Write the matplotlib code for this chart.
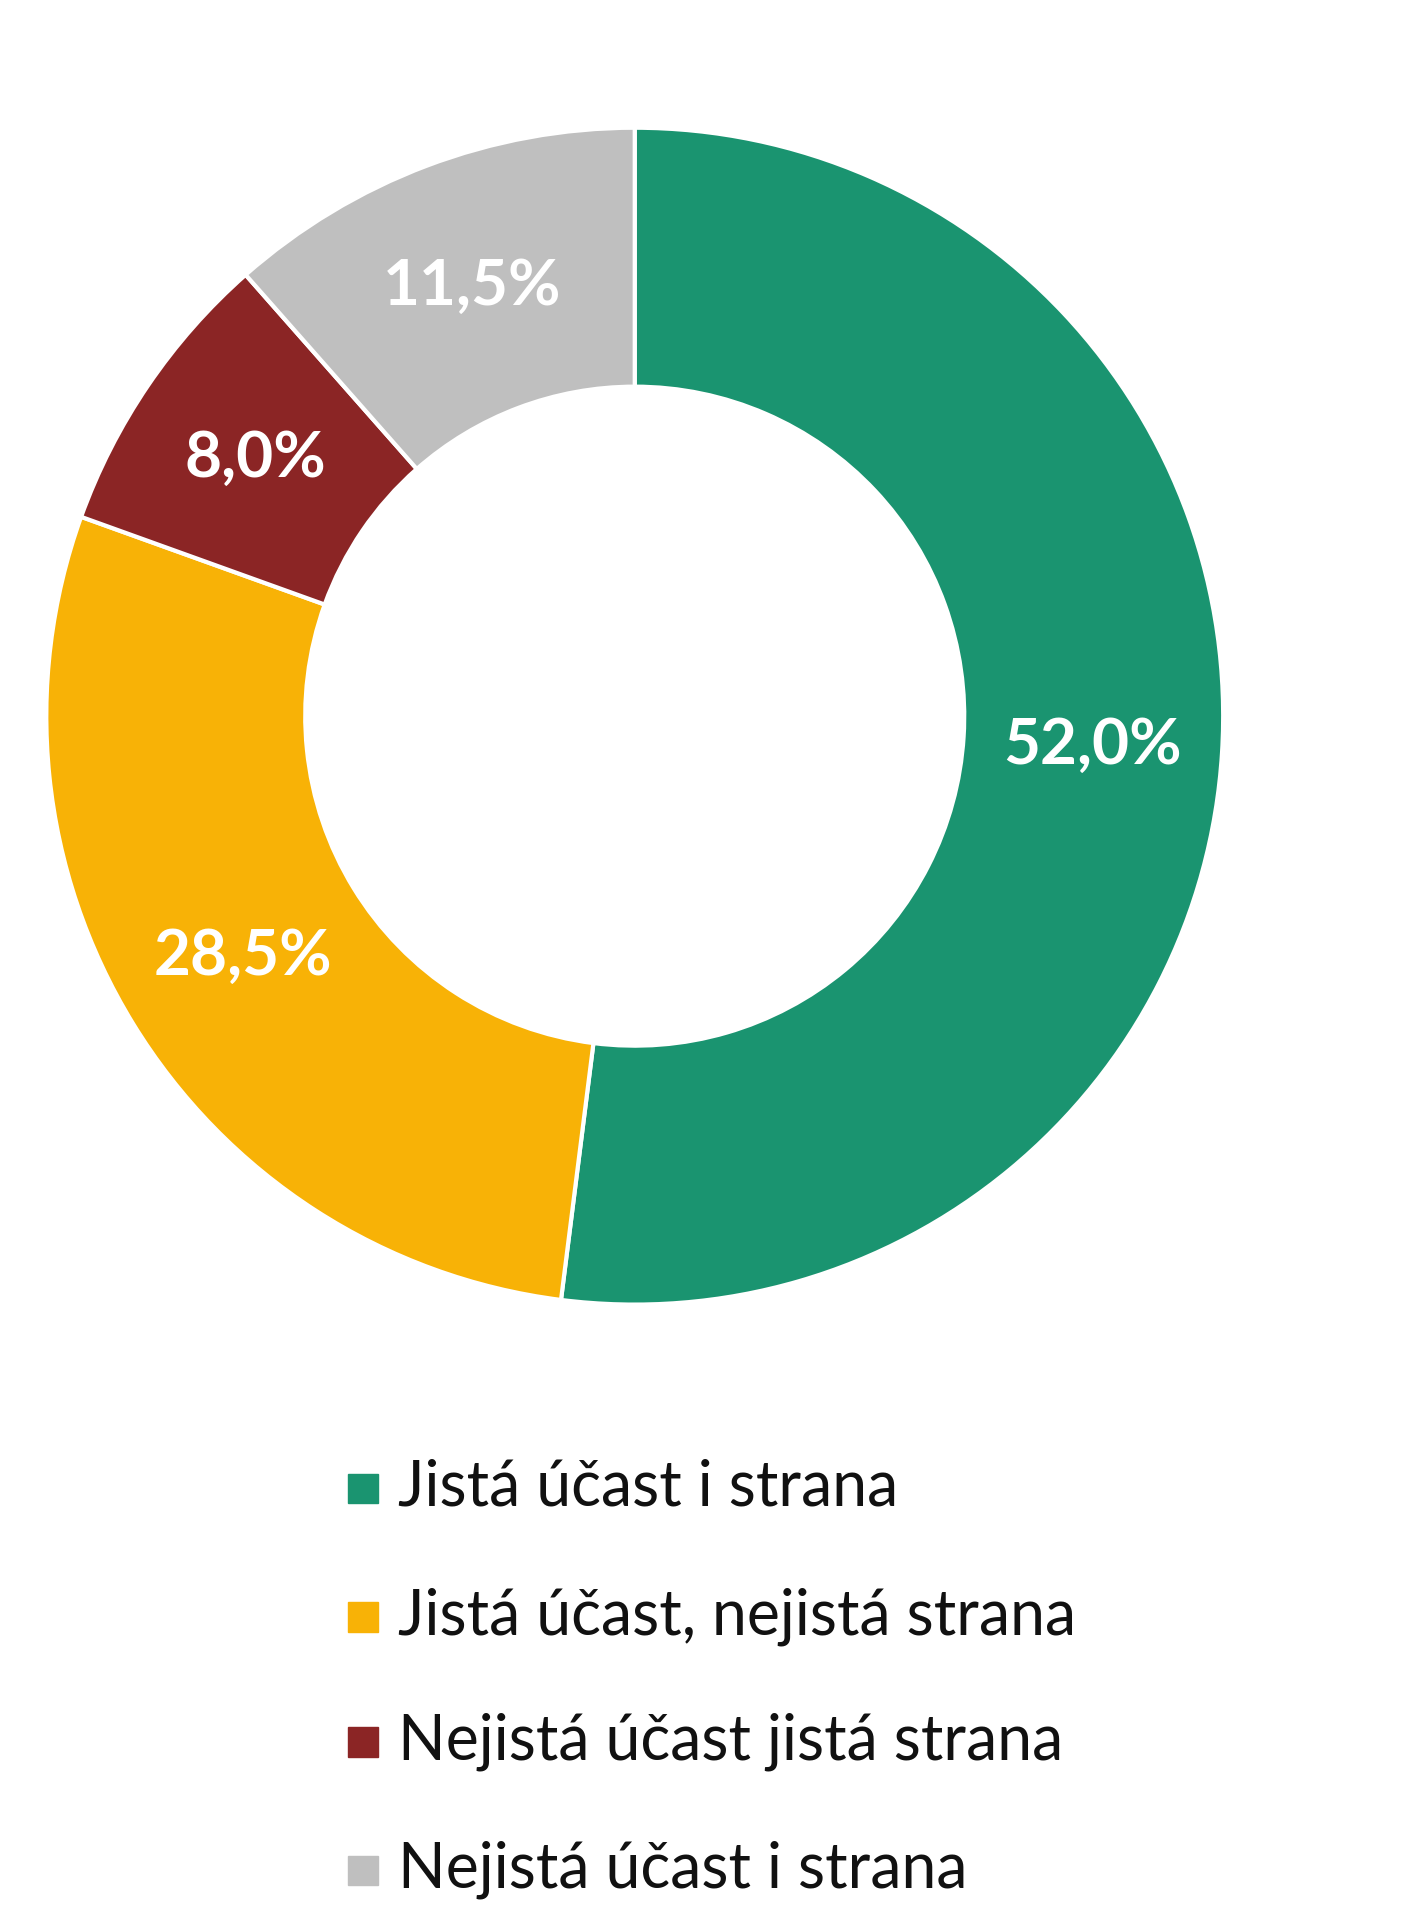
import matplotlib.pyplot as plt
from matplotlib.patches import Rectangle

categories = ["Jistá účast i strana", "Jistá účast, nejistá strana",
              "Nejistá účast jistá strana", "Nejistá účast i strana"]
values = [52.0, 28.5, 8.0, 11.5]
colors = ["#1A9470", "#F8B206", "#8B2525", "#BFBFBF"]

plt.rcParams["font.family"] = ["Lato", "DejaVu Sans"]

fig = plt.figure(figsize=(14.2, 19.2), dpi=100)
ax = fig.add_axes([0.447 - 0.4165, 0.627 - 0.308, 0.833, 0.616])
wedges, texts, autotexts = ax.pie(
    values, colors=colors, startangle=90, counterclock=False,
    wedgeprops=dict(width=0.44, edgecolor="white", linewidth=3),
    autopct=lambda p: f"{p:.1f}".replace(".", ",") + "%", pctdistance=0.78,
)
for t in autotexts:
    t.set_color("white")
    t.set_fontsize(46)
    t.set_fontweight("bold")
ax.set_xlim(-1.005, 1.005)
ax.set_ylim(-1.005, 1.005)
ax.set_aspect("equal")

ys = [0.225, 0.158, 0.093, 0.026]
for label, color, y in zip(categories, colors, ys):
    fig.patches.append(Rectangle((0.245, y - 0.008), 0.021, 0.0155,
                                 transform=fig.transFigure, color=color))
    fig.text(0.28, y, label, fontsize=45, va="center", ha="left", color="#111111")

fig.savefig("out.png", dpi=100)
